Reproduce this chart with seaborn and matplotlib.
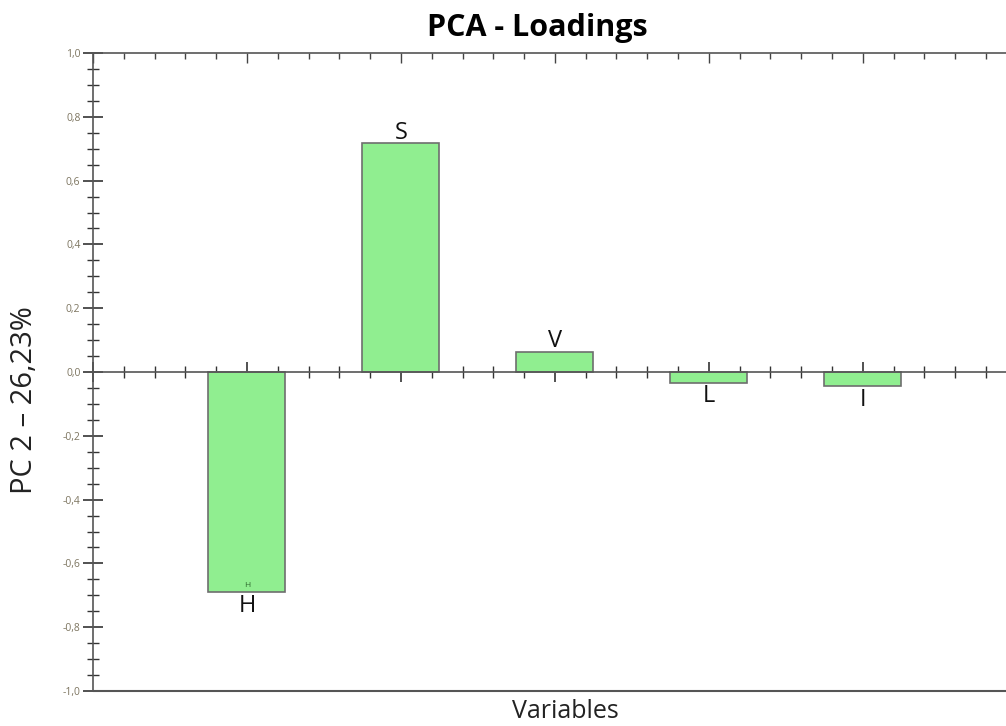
import matplotlib
matplotlib.use("Agg")
import matplotlib.pyplot as plt
import seaborn as sns
import pandas as pd
from matplotlib.ticker import MultipleLocator, FuncFormatter

# Loadings
variables = ["H", "S", "V", "L", "I"]
loadings = [-0.69, 0.718, 0.063, -0.034, -0.044]

title = "PCA - Loadings"
y_label = "PC 2 \u2013 26,23%"
x_label = "Variables"

df = pd.DataFrame({"Variable": variables, "Loading": loadings})

sns.set_theme(style="white")
plt.rcParams["font.family"] = ["Open Sans", "DejaVu Sans"]

fig = plt.figure(figsize=(10.06, 7.26), dpi=100)
ax = fig.add_axes([93 / 1006, 1 - 691 / 726, 913 / 1006, 638 / 726])

sns.barplot(data=df, x="Variable", y="Loading", color="#90EE90", width=0.5,
            edgecolor="#6e6e6e", linewidth=1.2, saturation=1, ax=ax)

ax.set_xlim(-1, 4.93)
ax.set_ylim(-1, 1)

# frame: left + top, x axis sits on zero, extra line at the bottom
ax.spines["right"].set_visible(False)
for side in ["left", "top", "bottom"]:
    ax.spines[side].set_color("#555555")
    ax.spines[side].set_linewidth(1.2)
ax.spines["bottom"].set_position(("data", 0))
ax.axhline(-1, color="#555555", lw=1.5, clip_on=False, zorder=5)

# x ticks on zero line
ax.xaxis.set_major_locator(MultipleLocator(1))
ax.xaxis.set_minor_locator(MultipleLocator(0.2))
ax.tick_params(axis="x", which="major", direction="inout", length=14, width=1.2,
               color="#333333", labelbottom=False, bottom=True, top=False)
ax.tick_params(axis="x", which="minor", direction="inout", length=8, width=1.0,
               color="#333333", bottom=True, top=False)

top = ax.secondary_xaxis("top")
top.xaxis.set_major_locator(MultipleLocator(1))
top.xaxis.set_minor_locator(MultipleLocator(0.2))
top.tick_params(axis="x", which="major", direction="in", length=7, width=1.0,
                color="#444444", labeltop=False)
top.tick_params(axis="x", which="minor", direction="in", length=4, width=1.0,
                color="#444444")
top.spines["top"].set_visible(False)

# y ticks
ax.yaxis.set_major_locator(MultipleLocator(0.2))
ax.yaxis.set_minor_locator(MultipleLocator(0.05))
ax.yaxis.set_major_formatter(FuncFormatter(lambda v, p: f"{v:.1f}".replace(".", ",").replace("-0,0", "0,0")))
ax.tick_params(axis="y", which="major", direction="inout", length=14, width=1.2,
               color="#333333", left=True, labelsize=7.5, labelcolor="#7d7560", pad=2)
ax.tick_params(axis="y", which="minor", direction="inout", length=9, width=1.0,
               color="#333333", left=True)

# variable labels at bar ends
for i, (name, val) in enumerate(zip(variables, loadings)):
    if val >= 0:
        ax.text(i, val - 0.005, name, ha="center", va="bottom", fontsize=17, color="#111111")
    else:
        ax.text(i, val - 0.005, name, ha="center", va="top", fontsize=17, color="#111111")
# small marker label inside the H bar
ax.text(0, loadings[0] + 0.01, variables[0], ha="center", va="bottom", fontsize=6,
        color="#2f6b2f")

ax.set_xlabel(x_label, fontsize=18, color="#222222")
ax.xaxis.set_label_coords(0.517, -0.012)
ax.set_ylabel("")
fig.text(25 / 1006, 1 - 400 / 726, y_label, rotation=90, ha="center", va="center",
         fontsize=21, color="#222222")

fig.text(537 / 1006, 1 - 28 / 726, title, ha="center", va="center",
         fontsize=22, fontweight="bold", color="#000000")

fig.savefig("out.png", dpi=100)
